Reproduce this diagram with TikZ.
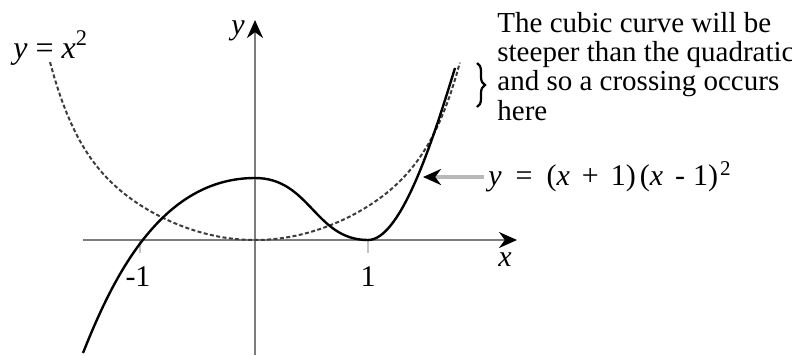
\documentclass[tikz,border=0pt]{standalone}
\usepackage{fontspec}
\setmainfont{Liberation Serif}
\usepackage{tikz}
\usetikzlibrary{arrows.meta,decorations.pathreplacing}
\definecolor{axisgrey}{RGB}{125,125,125}
\definecolor{tickgrey}{RGB}{195,195,195}
\definecolor{dashgrey}{RGB}{60,60,60}
\definecolor{pointergrey}{RGB}{185,185,185}

\tikzset{
  axisline/.style={draw=axisgrey,line width=1.3pt,-{Stealth[black,length=9pt,width=8pt]}},
  tickline/.style={draw=tickgrey,line width=1.3pt},
  curvelabel/.style={inner sep=0pt,font=\fontsize{15}{15}\selectfont},
}

\begin{document}
\begin{tikzpicture}[x=0.5pt,y=-0.5pt]
  \useasboundingbox (0,0) rectangle (792,355);
  % axes
  \draw[axisline] (83,240) -- (517,240);
  \draw[axisline] (255,355) -- (255,20);
  \draw[tickline] (140,241) -- (140,253);
  \draw[tickline] (368,241) -- (368,253);
  \node[curvelabel] (xlabel) at (505,260) {\textit{x}};
  \node[curvelabel] (ylabel) at (238,31) {\textit{y}};
  \node[curvelabel] (minusone) at (138,277) {-1};
  \node[curvelabel] (plusone) at (368,277) {1};

  % y = x^2, dotted
  \draw[dashgrey,line width=1pt,dash pattern=on 2pt off 1.2pt]
    plot[domain=-2.05:2.05,samples=101] ({255+100*\x},{240-26*\x*\x-0.22*(\x*\x)^4});

  % y = (x+1)(x-1)^2
  \draw[black,line width=1.2pt]
    (83,353) .. controls (112,280) and (160,178) .. (255,178)
    .. controls (310,178) and (315,240) .. (368,240)
    .. controls (402,240) and (435,133) .. (455,68);

  % labels
  \node[curvelabel,anchor=west,font=\fontsize{16}{16}\selectfont] (squarelabel) at (13,48)
    {\textit{y}\hspace{4pt}=\hspace{4pt}\textit{x}\textsuperscript{2}};
  \node[curvelabel,anchor=west] (cubiclabel) at (488,177)
    {\textit{y}\hspace{7pt}=\hspace{7pt}(\textit{x}\hspace{6pt}+\hspace{6pt}1)\hspace{2pt}(\textit{x}\hspace{6pt}-\hspace{4pt}1)\hspace{1pt}\textsuperscript{2}};
  \coordinate (cubictip) at (423,177);
  \draw[draw=pointergrey,line width=2pt,-{Stealth[black,length=9pt,width=8pt]}]
    (cubiclabel.west) ++(-4,0) -- (cubictip);

  % remark
  \draw[line width=1.1pt,decorate,decoration={brace,amplitude=4pt}] (477,63) -- (477,107);
  \node[curvelabel,anchor=north west,align=left,font=\fontsize{14.5}{14.6}\selectfont] (remark) at (497,12)
    {The cubic curve will be\\steeper than the quadratic\\and so a crossing occurs\\here};
\end{tikzpicture}
\end{document}
